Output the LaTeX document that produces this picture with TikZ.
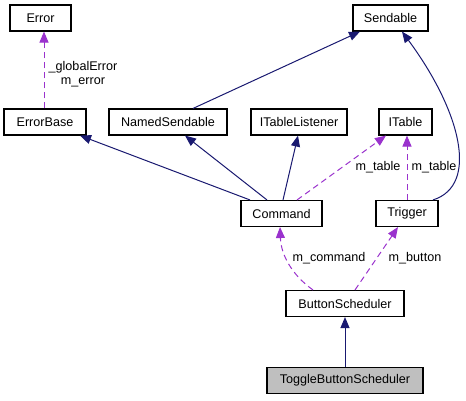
\documentclass[tikz,border=0pt]{standalone}
\usepackage{fontspec}
\setmainfont{Liberation Sans}
\usepackage{tikz}
\usetikzlibrary{arrows.meta}
\definecolor{inhcol}{RGB}{25,25,112}
\definecolor{usecol}{RGB}{154,50,205}
\definecolor{curfill}{RGB}{191,191,191}
\tikzset{
  cls/.style={draw=black,line width=1.1pt,fill=white,minimum height=26pt,inner sep=0pt,
    font=\fontsize{12.6}{14}\selectfont},
  inh/.style={draw=inhcol,line width=1pt,-{Triangle[length=11pt,width=9pt]}},
  use/.style={draw=usecol,line width=1pt,dash pattern=on 6pt off 4pt,
    -{Triangle[length=11pt,width=9pt]}},
  lbl/.style={inner sep=0pt,align=center,font=\fontsize{12.6}{14}\selectfont}
}

\begin{document}
\begin{tikzpicture}[x=1pt,y=-1pt]
\useasboundingbox (0,0) rectangle (466,400);
\foreach \nm/\cx/\cy/\w/\lab in {err/40.5/18/61/Error,snd/390.5/18/75/Sendable,
  eb/45/122/82/ErrorBase,ns/168/122/118/NamedSendable,itl/299/122/96/ITableListener,
  it/405.5/122/53/ITable,cmd/281.5/213.5/81/Command,trg/407/213.5/62/Trigger,
  bs/345/303.5/118/ButtonScheduler}{
  \node[cls,minimum width=\w pt] (\nm) at (\cx,\cy) {\lab};}
\node[cls,fill=curfill,minimum width=156pt] (tbs) at (345,380.5) {ToggleButtonScheduler};
% inheritance
\draw[inh] ([xshift=25]ns.north) -- ([xshift=-30.5]snd.south);
\draw[inh] ([xshift=26]trg.north) .. controls (480,185) and (460,110) .. ([xshift=11.5]snd.south);
\draw[inh] ([xshift=-31.5]cmd.north) -- ([xshift=35]eb.south);
\draw[inh] ([xshift=-14.5]cmd.north) -- ([xshift=17]ns.south);
\draw[inh] ([xshift=1.5]cmd.north) -- ([xshift=-1]itl.south);
\draw[inh] (tbs) -- (bs);
% usage
\draw[use] ([xshift=-1]eb.north) -- ([xshift=3.5]err.south);
\draw[use] ([xshift=15.5]cmd.north) -- ([xshift=-19.5]it.south);
\draw[use] (trg.north) -- ([xshift=1.5]it.south);
\draw[use] ([xshift=-32]bs.north) .. controls (292,275) and (281,255) .. ([xshift=-1.5]cmd.south);
\draw[use] ([xshift=10]bs.north) -- ([xshift=-9]trg.south);
\node[lbl] (lerr) at (83,74) {\_globalError\\m\_error};
\node[lbl] (ltab1) at (378,167) {m\_table};
\node[lbl] (ltab2) at (434,167) {m\_table};
\node[lbl] (lcmd) at (329,258) {m\_command};
\node[lbl] (lbtn) at (415,258) {m\_button};
\end{tikzpicture}
\end{document}
